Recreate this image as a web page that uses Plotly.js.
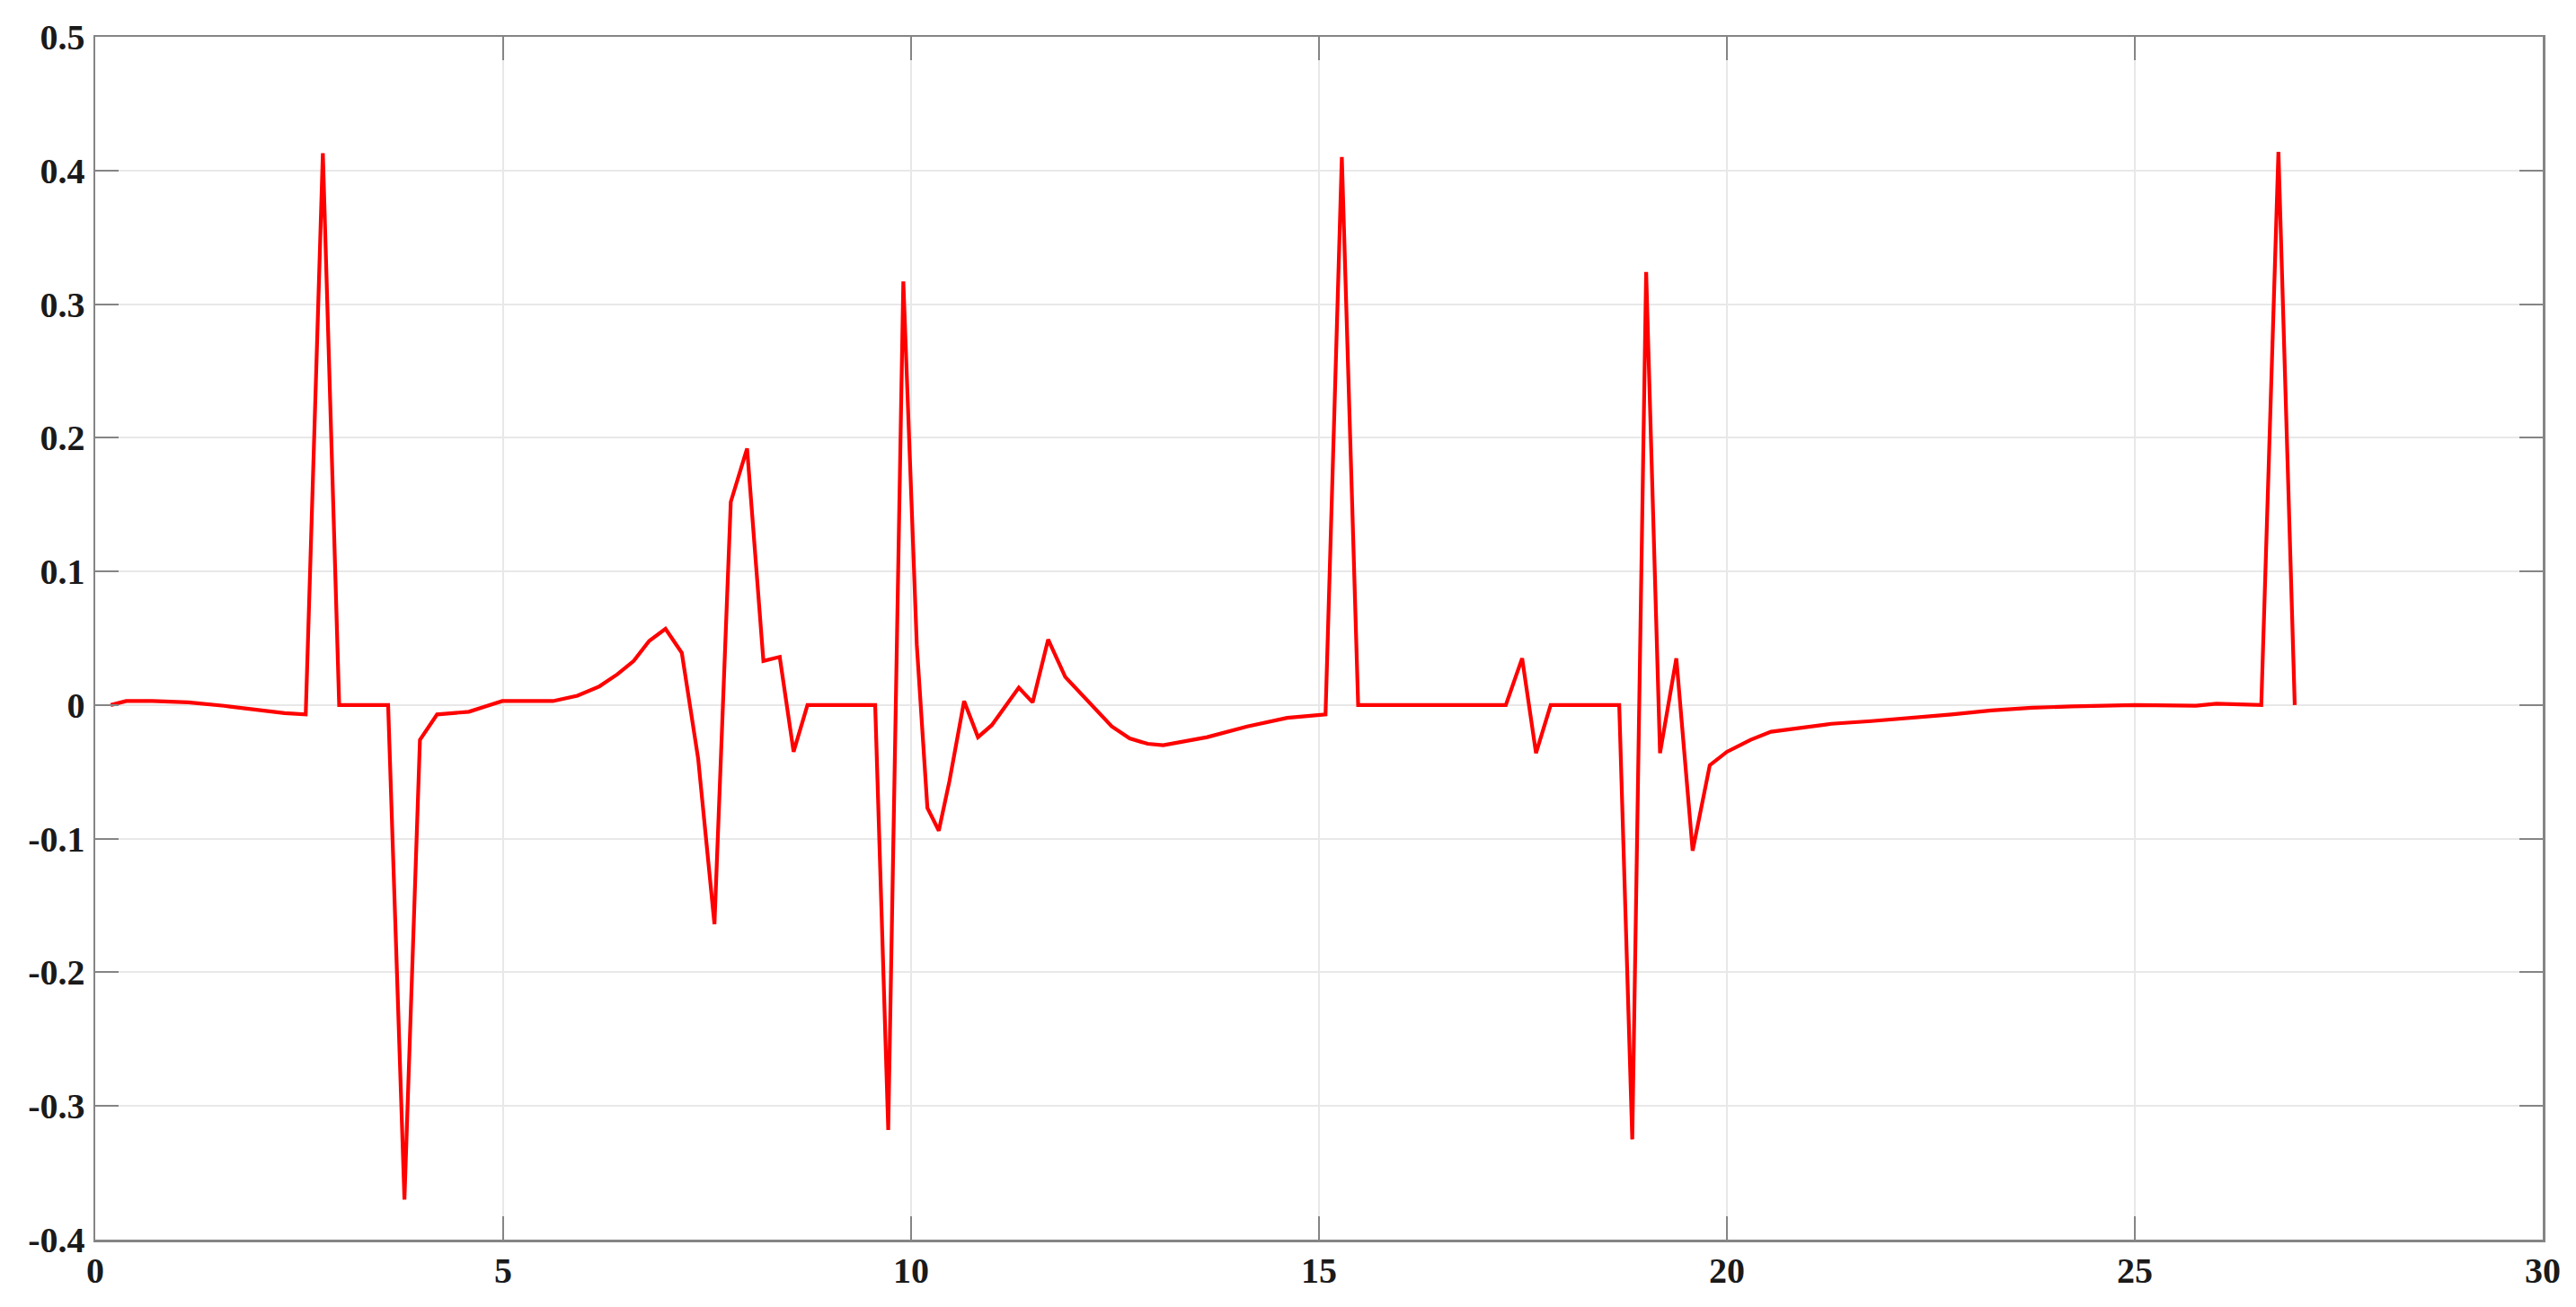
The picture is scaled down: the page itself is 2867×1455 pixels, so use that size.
<!DOCTYPE html>
<html>
<head>
<meta charset="utf-8">
<script src="https://cdn.plot.ly/plotly-3.0.1.min.js"></script>
<style>
  html, body { margin: 0; padding: 0; background: #ffffff; }
  #chart { width: 2867px; height: 1455px; }
</style>
</head>
<body>
<div id="chart"></div>
<script>
// Time axis values
const timeValues = [
  0.19, 0.38, 0.70, 1.14, 1.58, 2.03, 2.32, 2.58,
  2.79, 2.99, 3.59, 3.79, 3.98, 4.19, 4.58, 4.78, 4.99,
  5.37, 5.61, 5.91, 6.18, 6.40, 6.60, 6.79, 6.99, 7.19,
  7.39, 7.59, 7.79, 7.99, 8.19, 8.39, 8.56, 8.73, 9.56,
  9.72, 9.905, 10.07, 10.20, 10.34, 10.47, 10.65, 10.82, 10.99,
  11.32, 11.49, 11.68, 11.89, 12.09, 12.26, 12.46, 12.68, 12.90,
  13.09, 13.27, 13.63, 14.12, 14.61, 15.08,
  15.28, 15.48, 17.29, 17.49, 17.66, 17.84, 18.68,
  18.84, 19.01, 19.18, 19.38, 19.58, 19.79, 20.00,
  20.29, 20.54, 20.79, 21.28, 21.77, 22.26, 22.75, 23.24,
  23.74, 24.23, 25.00, 25.75, 26.00, 26.55, 26.76, 26.96
];
// Signal values
const signalValues = [
  0.000, 0.003, 0.003, 0.002, -0.0006, -0.004, -0.006, -0.007,
  0.413, 0.000, 0.000, -0.370, -0.026, -0.007, -0.005, -0.001, 0.003,
  0.003, 0.003, 0.007, 0.014, 0.023, 0.033, 0.048, 0.057, 0.039,
  -0.040, -0.164, 0.152, 0.192, 0.033, 0.036, -0.035, 0.000, 0.000,
  -0.318, 0.317, 0.045, -0.077, -0.094, -0.057, 0.003, -0.024, -0.015,
  0.013, 0.002, 0.049, 0.021, 0.008, -0.004, -0.016, -0.025, -0.029,
  -0.030, -0.028, -0.024, -0.016, -0.0096, -0.007,
  0.410, 0.000, 0.000, 0.035, -0.036, 0.000, 0.000,
  -0.325, 0.324, -0.036, 0.035, -0.109, -0.045, -0.035,
  -0.026, -0.020, -0.018, -0.014, -0.012, -0.0096, -0.007, -0.004,
  -0.002, -0.001, 0.000, -0.0005, 0.001, 0.000, 0.414, 0.000
];
const xTickValues = [0, 5, 10, 15, 20, 25, 30];
const xTickLabels = ["0", "5", "10", "15", "20", "25", "30"];
const yTickValues = [-0.4, -0.3, -0.2, -0.1, 0, 0.1, 0.2, 0.3, 0.4, 0.5];
const yTickLabels = ["-0.4", "-0.3", "-0.2", "-0.1", "0", "0.1", "0.2", "0.3", "0.4", "0.5"];

const trace = {
  x: timeValues,
  y: signalValues,
  type: 'scatter',
  mode: 'lines',
  line: { color: '#ff0000', width: 4.2 },
  showlegend: false
};

const axisCommon = {
  showline: true,
  linecolor: '#858585',
  linewidth: 2.5,
  mirror: 'ticks',
  ticks: 'inside',
  ticklen: 26,
  tickwidth: 2,
  tickcolor: '#858585',
  showgrid: true,
  gridcolor: '#e8e8e8',
  gridwidth: 2,
  zeroline: false,
  tickfont: { family: 'Liberation Serif, serif', size: 40, color: '#1a1a1a', weight: 'bold' }
};

const layout = {
  width: 2867,
  height: 1455,
  paper_bgcolor: '#ffffff',
  plot_bgcolor: '#ffffff',
  margin: { l: 106, r: 37, t: 41, b: 75 },
  xaxis: Object.assign({}, axisCommon, {
    range: [0, 30],
    tickmode: 'array',
    tickvals: xTickValues,
    ticktext: xTickLabels,
    ticklabelstandoff: -3
  }),
  yaxis: Object.assign({}, axisCommon, {
    range: [-0.4, 0.5],
    tickmode: 'array',
    tickvals: yTickValues,
    ticktext: yTickLabels,
    ticklabelstandoff: 1
  })
};

Plotly.newPlot('chart', [trace], layout, { staticPlot: true, displayModeBar: false });
</script>
</body>
</html>
